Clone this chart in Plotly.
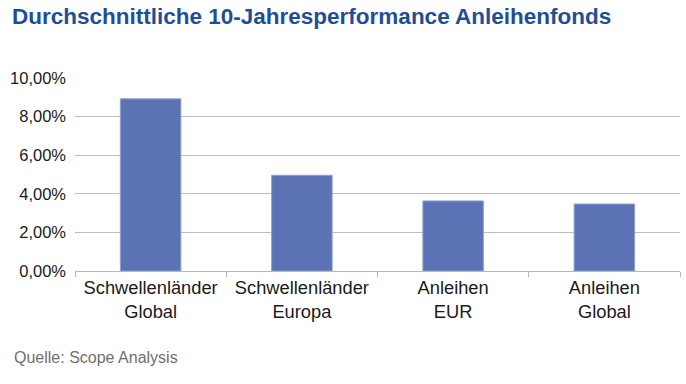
import plotly.graph_objects as go

categories = ["Schwellenländer<br>Global", "Schwellenländer<br>Europa", "Anleihen<br>EUR", "Anleihen<br>Global"]
values = [8.92, 4.96, 3.63, 3.47]
y_ticks = [0, 2, 4, 6, 8, 10]
y_tick_labels = ["0,00%", "2,00%", "4,00%", "6,00%", "8,00%", "10,00%"]

fig = go.Figure(go.Bar(
    x=categories, y=values,
    marker=dict(color="#5b73b4", line=dict(color="#8fa0d2", width=1)),
    hoverinfo="skip",
))

fig.update_layout(
    width=686, height=384,
    margin=dict(l=75, r=6, t=78, b=113),
    paper_bgcolor="white", plot_bgcolor="white",
    bargap=0.6,
    showlegend=False,
    font=dict(family="Liberation Sans, Arial, sans-serif", size=16, color="#1a1a1a"),
    title=dict(text="<b>Durchschnittliche 10-Jahresperformance Anleihenfonds</b>",
               x=0.0175, xanchor="left", y=0.979, yanchor="top", pad=dict(t=0, b=0),
               font=dict(size=22.5, color="#1f4e96")),
    annotations=[dict(text="Quelle: Scope Analysis", xref="paper", yref="paper",
                      x=-0.104, xanchor="left", y=-0.446, yanchor="middle",
                      showarrow=False, font=dict(size=16, color="#6f6f6f"))],
)

fig.update_xaxes(
    showline=True, linecolor="#b8b8b8", linewidth=1,
    ticks="outside", tickson="boundaries", ticklen=5, tickcolor="#b8b8b8",
    showgrid=False, tickfont=dict(size=18.3, color="#1a1a1a"),
)
fig.update_yaxes(
    range=[0, 10], tickvals=y_ticks, ticktext=y_tick_labels,
    showgrid=True, gridcolor="#bdbdbd", gridwidth=1,
    showline=False, zeroline=False, ticks="", ticklabelstandoff=8,
    tickfont=dict(size=16.5, color="#1a1a1a"),
)

fig.write_html("out.html", config={"displayModeBar": False, "staticPlot": True},
               post_script="document.body.style.margin='0';")
